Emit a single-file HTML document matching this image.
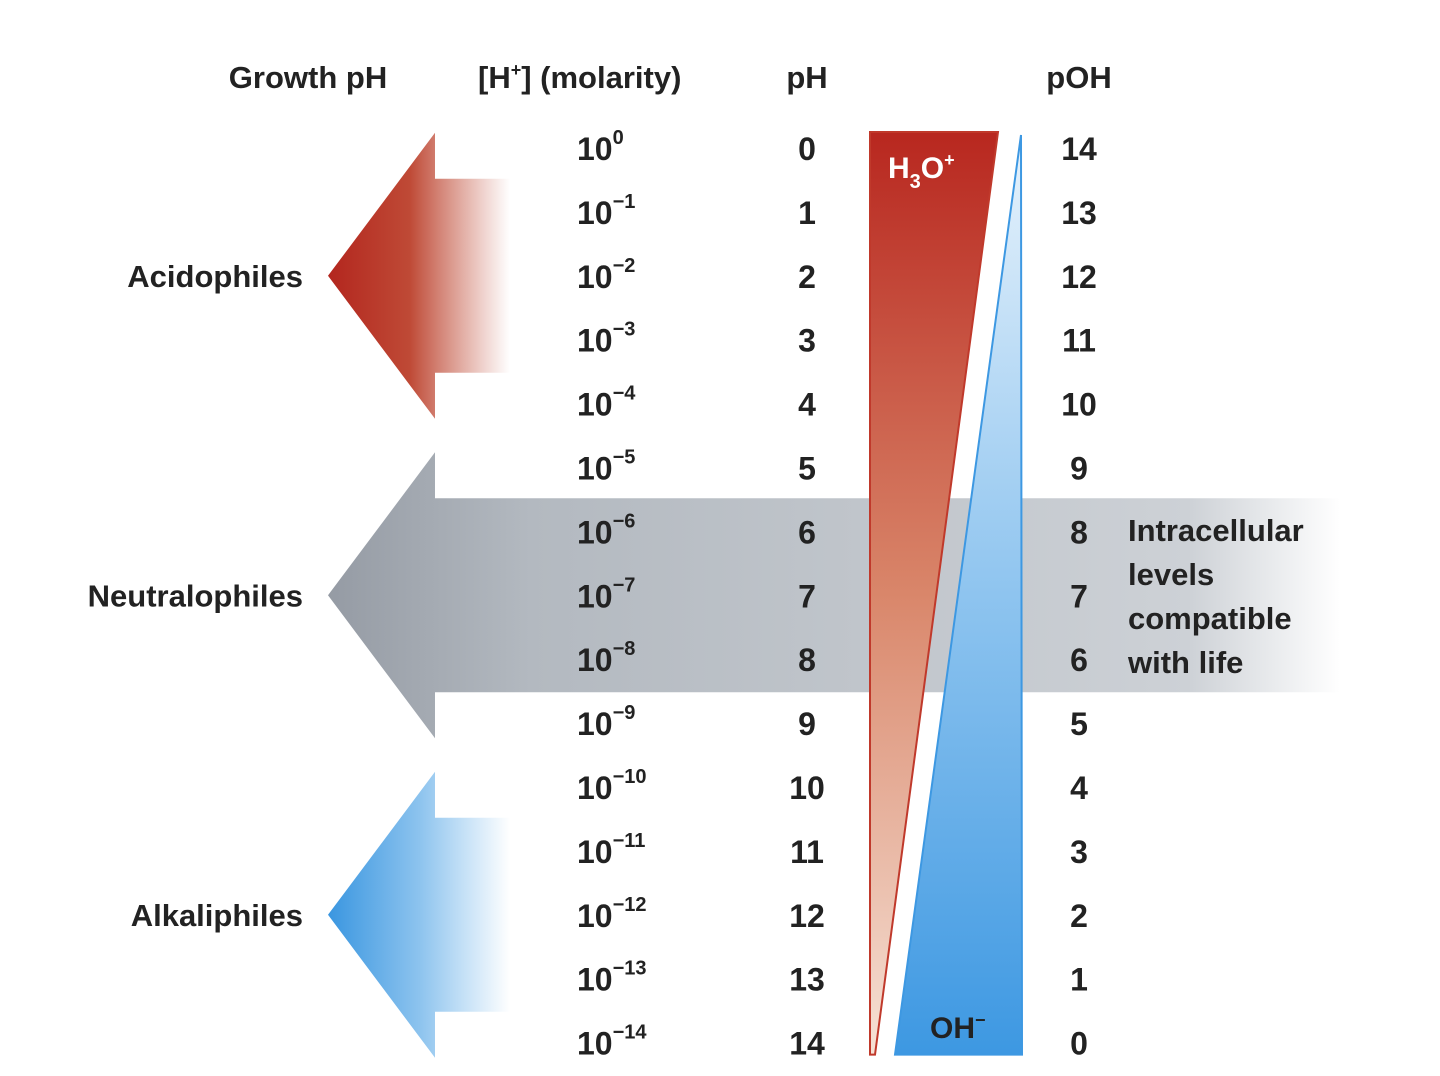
<!DOCTYPE html>
<html><head><meta charset="utf-8"><style>
html,body{margin:0;padding:0;background:#fff;}
svg text{font-family:"Liberation Sans",sans-serif;font-weight:bold;fill:#222;}
</style></head><body>
<svg width="1440" height="1071" viewBox="0 0 1440 1071" id="chart">
<defs>
<linearGradient id="gRed" x1="0" x2="1" y1="0" y2="0"><stop offset="0" stop-color="#b3261e"/><stop offset="0.45" stop-color="#bf4a36"/><stop offset="1" stop-color="#fff" stop-opacity="0.9"/></linearGradient>
<linearGradient id="gBlue" x1="0" x2="1" y1="0" y2="0"><stop offset="0" stop-color="#3a96e0"/><stop offset="0.5" stop-color="#8cc3ee"/><stop offset="1" stop-color="#fff"/></linearGradient>
<linearGradient id="gGray" x1="0" x2="1" y1="0" y2="0"><stop offset="0" stop-color="#959ba4"/><stop offset="0.2" stop-color="#b3b9c0"/><stop offset="0.85" stop-color="#cdd1d6"/><stop offset="1" stop-color="#fff"/></linearGradient>
<linearGradient id="gH" x1="0" x2="0" y1="0" y2="1"><stop offset="0" stop-color="#b8271f"/><stop offset="0.5" stop-color="#d9866a"/><stop offset="1" stop-color="#f6e2d6"/></linearGradient>
<linearGradient id="gOH" x1="0" x2="0" y1="0" y2="1"><stop offset="0" stop-color="#e8f3fc"/><stop offset="0.5" stop-color="#8ec4ef"/><stop offset="1" stop-color="#3d98e2"/></linearGradient>
</defs>
<g id="arrows"></g>
<g id="triangles"></g>
<g id="labels"></g>
</svg>
<script>
const phValues=[0,1,2,3,4,5,6,7,8,9,10,11,12,13,14];
const exponents=["0","−1","−2","−3","−4","−5","−6","−7","−8","−9","−10","−11","−12","−13","−14"];
const pohValues=[14,13,12,11,10,9,8,7,6,5,4,3,2,1,0];
const groups=["Acidophiles","Neutralophiles","Alkaliphiles"];
const groupCenterPh=[2,7,12];
const NS="http://www.w3.org/2000/svg";
const y0=148, step=63.9;
const yPh=v=>y0+v*step;
function el(tag,attrs,parent,text){const e=document.createElementNS(NS,tag);for(const k in attrs)e.setAttribute(k,attrs[k]);if(text!==undefined)e.textContent=text;parent.appendChild(e);return e;}
const arrowsG=document.getElementById('arrows'), triG=document.getElementById('triangles'), labG=document.getElementById('labels');
const fills=["url(#gRed)","url(#gGray)","url(#gBlue)"];
const shaftEnd=[510,1340,510];
groups.forEach((g,i)=>{
  const c=yPh(groupCenterPh[i]);
  const d=`M328,${c} L435,${c-143} L435,${c-97} L${shaftEnd[i]},${c-97} L${shaftEnd[i]},${c+97} L435,${c+97} L435,${c+143} Z`;
  const p=el('path',{d:d,fill:fills[i]},arrowsG);
  
  
  const t=el('text',{x:303,y:c+11,'font-size':31,'text-anchor':'end'},labG,g);
  
  
});
const yTop=yPh(0)-16, yBot=yPh(14)+12;
const h=el('polygon',{points:`870,${yTop} 998,${yTop} 875,${yBot} 870,${yBot}`,fill:'url(#gH)',stroke:'#c0392b','stroke-width':2},triG);


const o=el('polygon',{points:`1021,${yTop+3} 1022,${yBot} 895,${yBot}`,fill:'url(#gOH)',stroke:'#3d98e2','stroke-width':2},triG);


const ht=el('text',{x:888,y:178,'font-size':30,style:'fill:#fff'},labG);
ht.innerHTML='H<tspan font-size="20" dy="10">3</tspan><tspan dy="-10">O</tspan><tspan font-size="18" dy="-12">+</tspan>';


const ot=el('text',{x:930,y:1038,'font-size':30},labG);
ot.innerHTML='OH<tspan font-size="18" dy="-12">−</tspan>';


phValues.forEach((v,i)=>{
  const y=yPh(v)+12;
  const m=el('text',{x:577,y:y,'font-size':32},labG);
  m.innerHTML='10<tspan font-size="20" dy="-16">'+exponents[i]+'</tspan>';
  
  
  const p=el('text',{x:807,y:y,'font-size':32,'text-anchor':'middle'},labG,String(v));
  
  
  const q=el('text',{x:1079,y:y,'font-size':32,'text-anchor':'middle'},labG,String(pohValues[i]));
  
  
});
[["Growth pH",308,"middle"],["[H",478,"start"],["pH",807,"middle"],["pOH",1079,"middle"]].forEach(([s,x,a])=>{
  const t=el('text',{x:x,y:88,'font-size':31,'text-anchor':a},labG);
  if(s==="[H") t.innerHTML='[H<tspan font-size="18" dy="-12">+</tspan><tspan dy="12">] (molarity)</tspan>'; else t.textContent=s;
  
  
});
["Intracellular","levels","compatible","with life"].forEach((s,i)=>{
  const t=el('text',{x:1128,y:541+i*44,'font-size':31},labG,s);
  
  
});
</script>
</body></html>
